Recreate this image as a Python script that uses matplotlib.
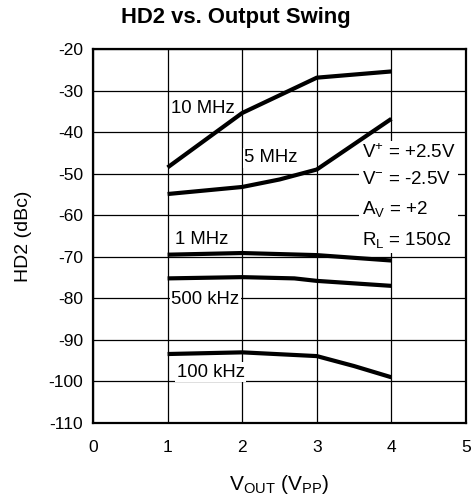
import matplotlib
matplotlib.use("Agg")
import matplotlib.pyplot as plt

plt.rcParams['font.family'] = ['Liberation Sans', 'DejaVu Sans']
plt.rcParams['mathtext.fontset'] = 'custom'
plt.rcParams['mathtext.rm'] = 'Liberation Sans'
plt.rcParams['mathtext.it'] = 'Liberation Sans'
plt.rcParams['axes.unicode_minus'] = False

# Data (VOUT in Vpp, HD2 in dBc)
x_10m = [1, 2, 3, 4]
hd2_10m = [-48.5, -35.4, -26.9, -25.4]
x_5m = [1, 2, 2.5, 3, 4]
hd2_5m = [-54.9, -53.2, -51.4, -49.0, -36.8]
x_1m = [1, 2, 3, 4]
hd2_1m = [-69.5, -69.1, -69.6, -70.9]
x_500k = [1, 2, 2.7, 3, 4]
hd2_500k = [-75.2, -74.9, -75.2, -75.8, -77.0]
x_100k = [1, 2, 3, 3.5, 4]
hd2_100k = [-93.4, -93.0, -93.9, -96.3, -99.0]

series = [
    (x_10m, hd2_10m), (x_5m, hd2_5m), (x_1m, hd2_1m),
    (x_500k, hd2_500k), (x_100k, hd2_100k),
]

labels = [
    ("10 MHz", 1.05, -34.4),
    ("5 MHz", 2.03, -46.2),
    ("1 MHz", 1.1, -65.9),
    ("500 kHz", 1.05, -80.3),
    ("100 kHz", 1.12, -97.8),
]

xticks = [0, 1, 2, 3, 4, 5]
yticks = [-20, -30, -40, -50, -60, -70, -80, -90, -100, -110]

fig = plt.figure(figsize=(4.71, 5.0), dpi=100)
ax = fig.add_axes([93/471, 77/500, 373/471, 374/500])
ax.set_xlim(0, 5)
ax.set_ylim(-110, -20)
ax.set_xticks(xticks)
ax.set_yticks(yticks)
ax.tick_params(length=0, labelsize=12.5)
ax.tick_params(axis='y', pad=7)
ax.tick_params(axis='x', pad=12)
ax.grid(True, color='black', linewidth=0.9)
ax.set_axisbelow(True)
for s in ax.spines.values():
    s.set_linewidth(1.6)

for xs, ys in series:
    ax.plot(xs, ys, color='black', linewidth=3.0, solid_capstyle='butt', zorder=3)

bbox = dict(facecolor='white', edgecolor='none', pad=1.0)
for txt, lx, ly in labels:
    ax.text(lx, ly, txt, fontsize=13.3, ha='left', va='center', bbox=bbox, zorder=2.5)

cond_text = "\n".join([
    r"V$^{+}$ = +2.5V",
    r"V$^{-}$ = -2.5V",
    r"A$_{\mathrm{V}}$ = +2",
    r"R$_{\mathrm{L}}$ = 150Ω",
])
ax.text(3.6, -55.5, cond_text, fontsize=13.5, ha='left', va='center',
        linespacing=1.72, bbox=dict(facecolor='white', edgecolor='none', pad=2.0), zorder=2.5)

fig.text(236/471, 1 - 18/500, "HD2 vs. Output Swing", fontsize=15.8,
         fontweight='bold', ha='center', va='center')
ax.set_ylabel("HD2 (dBc)", fontsize=14, labelpad=12)
ax.set_xlabel(r"V$_{\mathrm{OUT}}$ (V$_{\mathrm{PP}}$)", fontsize=15, labelpad=13)

fig.savefig("out.png", dpi=100)
